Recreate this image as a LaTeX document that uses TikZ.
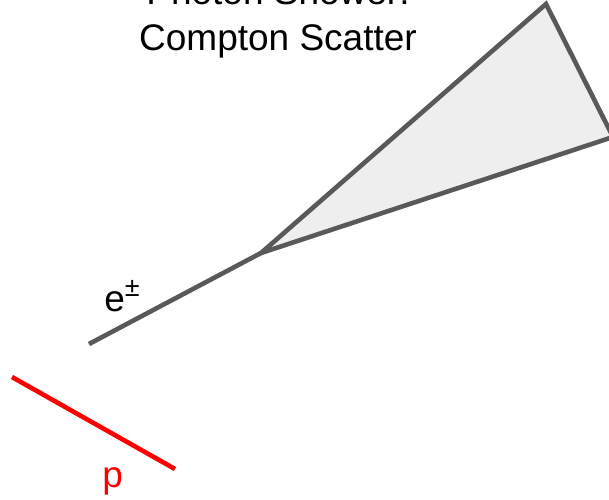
\documentclass[tikz,border=0pt]{standalone}
\usepackage{fontspec}
\setmainfont{Liberation Sans}
\definecolor{trackgray}{HTML}{595959}
\definecolor{conefill}{HTML}{EEEEEE}
\tikzset{
  track/.style={draw=trackgray, line width=2.3pt},
  proton/.style={draw=red, line width=2.3pt},
  lbl/.style={font=\fontsize{18.5}{23}\selectfont, inner sep=0pt}
}
\begin{document}
\begin{tikzpicture}[x=0.5pt,y=-0.5pt]
\useasboundingbox (0,0) rectangle (609,499);

% shower cone
\coordinate (V) at (261,253);
\coordinate (T) at (546,4);
\coordinate (R) at (613,137);
\filldraw[track, fill=conefill, line join=miter] (V) -- (T) -- (R) -- cycle;

% incoming electron
\coordinate (E) at (89,344);
\draw[track] (E) -- (V);
\node[lbl, anchor=base west] (elbl) at (104,311)
  {e\raisebox{0.4em}{\fontsize{13.5}{13.5}\selectfont ±}};

% proton
\coordinate (P1) at (12,377);
\coordinate (P2) at (175,469);
\draw[proton] (P1) -- (P2);
\node[lbl, anchor=base west, text=red] (plbl) at (102,487) {p};

% caption
\node[lbl, anchor=base] (title) at (278,50) {Compton Scatter};
\node[lbl, anchor=base] (title1) at (title.base) [yshift=23pt] {Photon Shower:};
\end{tikzpicture}
\end{document}
